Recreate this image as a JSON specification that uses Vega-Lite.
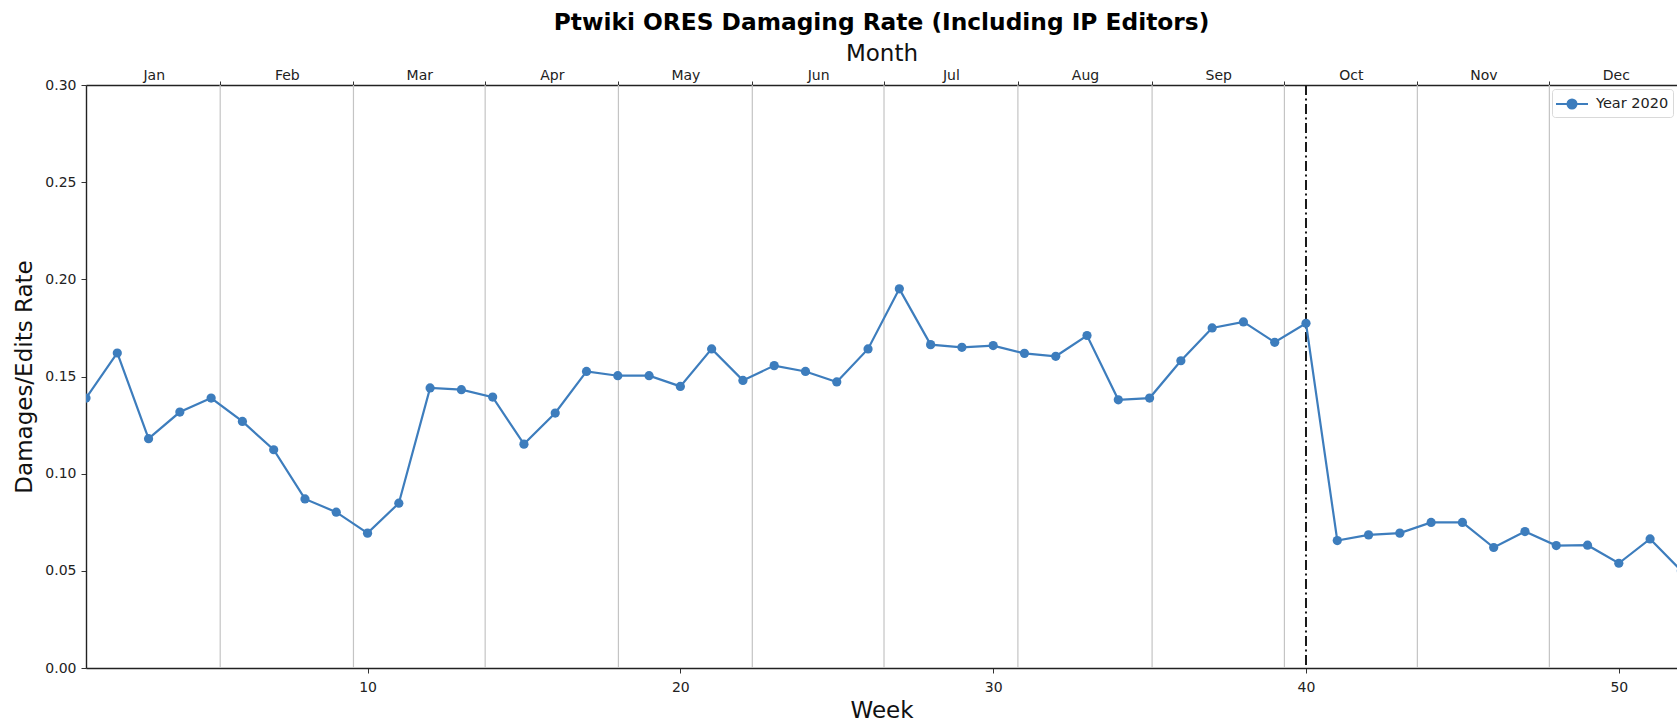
{
  "$schema": "https://vega.github.io/schema/vega-lite/v6.json",
  "autosize": "none",
  "padding": {"left": 86, "top": 85, "right": 0, "bottom": 53},
  "width": 1591,
  "height": 583,
  "background": "white",
  "config": {
    "font": "DejaVu Sans",
    "view": {"stroke": null},
    "axis": {"labelFont": "DejaVu Sans", "titleFont": "DejaVu Sans", "labelColor": "#222222", "titleColor": "#111111", "titleFontWeight": "normal", "labelFlush": false, "labelOverlap": false, "domainColor": "#222222", "tickColor": "#333333", "domainWidth": 1.4}
  },
  "title": {"text": "Ptwiki ORES Damaging Rate (Including IP Editors)", "fontSize": 23.3, "fontWeight": "bold", "font": "DejaVu Sans", "color": "#000000", "anchor": "middle", "offset": 7},
  "datasets": {
    "weekly": [
      {"week": 1, "rate": 0.1389, "series": "Year 2020"},
      {"week": 2, "rate": 0.1621, "series": "Year 2020"},
      {"week": 3, "rate": 0.1180, "series": "Year 2020"},
      {"week": 4, "rate": 0.1317, "series": "Year 2020"},
      {"week": 5, "rate": 0.1389, "series": "Year 2020"},
      {"week": 6, "rate": 0.1269, "series": "Year 2020"},
      {"week": 7, "rate": 0.1123, "series": "Year 2020"},
      {"week": 8, "rate": 0.0870, "series": "Year 2020"},
      {"week": 9, "rate": 0.0802, "series": "Year 2020"},
      {"week": 10, "rate": 0.0694, "series": "Year 2020"},
      {"week": 11, "rate": 0.0848, "series": "Year 2020"},
      {"week": 12, "rate": 0.1441, "series": "Year 2020"},
      {"week": 13, "rate": 0.1432, "series": "Year 2020"},
      {"week": 14, "rate": 0.1394, "series": "Year 2020"},
      {"week": 15, "rate": 0.1152, "series": "Year 2020"},
      {"week": 16, "rate": 0.1312, "series": "Year 2020"},
      {"week": 17, "rate": 0.1526, "series": "Year 2020"},
      {"week": 18, "rate": 0.1504, "series": "Year 2020"},
      {"week": 19, "rate": 0.1504, "series": "Year 2020"},
      {"week": 20, "rate": 0.1449, "series": "Year 2020"},
      {"week": 21, "rate": 0.1642, "series": "Year 2020"},
      {"week": 22, "rate": 0.1480, "series": "Year 2020"},
      {"week": 23, "rate": 0.1556, "series": "Year 2020"},
      {"week": 24, "rate": 0.1526, "series": "Year 2020"},
      {"week": 25, "rate": 0.1472, "series": "Year 2020"},
      {"week": 26, "rate": 0.1642, "series": "Year 2020"},
      {"week": 27, "rate": 0.1951, "series": "Year 2020"},
      {"week": 28, "rate": 0.1664, "series": "Year 2020"},
      {"week": 29, "rate": 0.1650, "series": "Year 2020"},
      {"week": 30, "rate": 0.1659, "series": "Year 2020"},
      {"week": 31, "rate": 0.1619, "series": "Year 2020"},
      {"week": 32, "rate": 0.1604, "series": "Year 2020"},
      {"week": 33, "rate": 0.1711, "series": "Year 2020"},
      {"week": 34, "rate": 0.1380, "series": "Year 2020"},
      {"week": 35, "rate": 0.1389, "series": "Year 2020"},
      {"week": 36, "rate": 0.1581, "series": "Year 2020"},
      {"week": 37, "rate": 0.1750, "series": "Year 2020"},
      {"week": 38, "rate": 0.1781, "series": "Year 2020"},
      {"week": 39, "rate": 0.1676, "series": "Year 2020"},
      {"week": 40, "rate": 0.1774, "series": "Year 2020"},
      {"week": 41, "rate": 0.0656, "series": "Year 2020"},
      {"week": 42, "rate": 0.0685, "series": "Year 2020"},
      {"week": 43, "rate": 0.0694, "series": "Year 2020"},
      {"week": 44, "rate": 0.0749, "series": "Year 2020"},
      {"week": 45, "rate": 0.0749, "series": "Year 2020"},
      {"week": 46, "rate": 0.0620, "series": "Year 2020"},
      {"week": 47, "rate": 0.0702, "series": "Year 2020"},
      {"week": 48, "rate": 0.0630, "series": "Year 2020"},
      {"week": 49, "rate": 0.0632, "series": "Year 2020"},
      {"week": 50, "rate": 0.0539, "series": "Year 2020"},
      {"week": 51, "rate": 0.0664, "series": "Year 2020"},
      {"week": 52, "rate": 0.0500, "series": "Year 2020"}
    ],
    "boundaries": [
      {"start": 5.29}, {"start": 9.55}, {"start": 13.76}, {"start": 18.02}, {"start": 22.3},
      {"start": 26.51}, {"start": 30.79}, {"start": 35.08}, {"start": 39.31}, {"start": 43.56}, {"start": 47.78}
    ],
    "marker": [{"week": 40}]
  },
  "resolve": {"axis": {"x": "independent"}},
  "layer": [
    {
      "data": {"name": "boundaries"},
      "mark": {"type": "rule", "color": "#c4c4c4", "strokeWidth": 1.2},
      "encoding": {
        "x": {"field": "start", "type": "quantitative", "scale": {"domain": [1, 51.86], "nice": false, "zero": false},
          "axis": {"orient": "top", "title": "Month", "titleFontSize": 23, "titlePadding": 3, "labelFontSize": 14, "labelPadding": 3, "ticks": false, "domain": true, "grid": false,
            "values": [3.165, 7.42, 11.655, 15.89, 20.16, 24.405, 28.65, 32.935, 37.195, 41.435, 45.67, 49.905],
            "labelExpr": "['Jan','Feb','Mar','Apr','May','Jun','Jul','Aug','Sep','Oct','Nov','Dec'][indexof([3.165,7.42,11.655,15.89,20.16,24.405,28.65,32.935,37.195,41.435,45.67,49.905], datum.value)]"}}
      }
    },
    {
      "data": {"name": "marker"},
      "mark": {"type": "rule", "color": "#1a1a1a", "strokeWidth": 2, "strokeDash": [10, 3.5, 2, 3.5]},
      "encoding": {
        "x": {"field": "week", "type": "quantitative",
          "axis": {"orient": "top", "title": null, "labels": false, "domain": false, "grid": false, "ticks": true, "tickSize": 4,
            "values": [5.29, 9.55, 13.76, 18.02, 22.3, 26.51, 30.79, 35.08, 39.31, 43.56, 47.78]}}
      }
    },
    {
      "data": {"name": "weekly"},
      "mark": {"type": "line", "strokeWidth": 2.2, "clip": true},
      "encoding": {
        "x": {"field": "week", "type": "quantitative",
          "axis": {"orient": "bottom", "title": "Week", "titleFontSize": 23, "titlePadding": 5, "labelFontSize": 14, "labelPadding": 7, "tickSize": 5, "grid": false, "values": [10, 20, 30, 40, 50], "format": "d"}},
        "y": {"field": "rate", "type": "quantitative", "scale": {"domain": [0, 0.3], "nice": false, "zero": true},
          "axis": {"title": "Damages/Edits Rate", "titleFontSize": 23, "titlePadding": 8, "labelFontSize": 14, "labelPadding": 5, "tickSize": 5, "grid": false, "values": [0, 0.05, 0.1, 0.15, 0.2, 0.25, 0.3], "format": ".2f"}},
        "color": {"field": "series", "type": "nominal", "title": null,
          "scale": {"domain": ["Year 2020"], "range": ["#3d7dbd"]},
          "legend": {"orient": "top-right", "offset": 4, "title": null, "labelFontSize": 14.5, "labelFont": "DejaVu Sans", "labelColor": "#222222",
            "strokeColor": "#d9d9d9", "cornerRadius": 3, "fillColor": "white", "padding": 4,
            "symbolType": "M-1.6,0L1.6,0M0.45,0A0.45,0.45,0,1,1,-0.45,0A0.45,0.45,0,1,1,0.45,0Z",
            "symbolSize": 400, "symbolStrokeWidth": 2, "symbolFillColor": "#3d7dbd", "symbolStrokeColor": "#3d7dbd", "symbolOffset": 5, "labelOffset": 13}}
      }
    },
    {
      "data": {"name": "weekly"},
      "mark": {"type": "point", "filled": true, "size": 85, "opacity": 1, "clip": true},
      "encoding": {
        "x": {"field": "week", "type": "quantitative", "axis": null},
        "y": {"field": "rate", "type": "quantitative"},
        "color": {"field": "series", "type": "nominal"}
      }
    }
  ]
}
